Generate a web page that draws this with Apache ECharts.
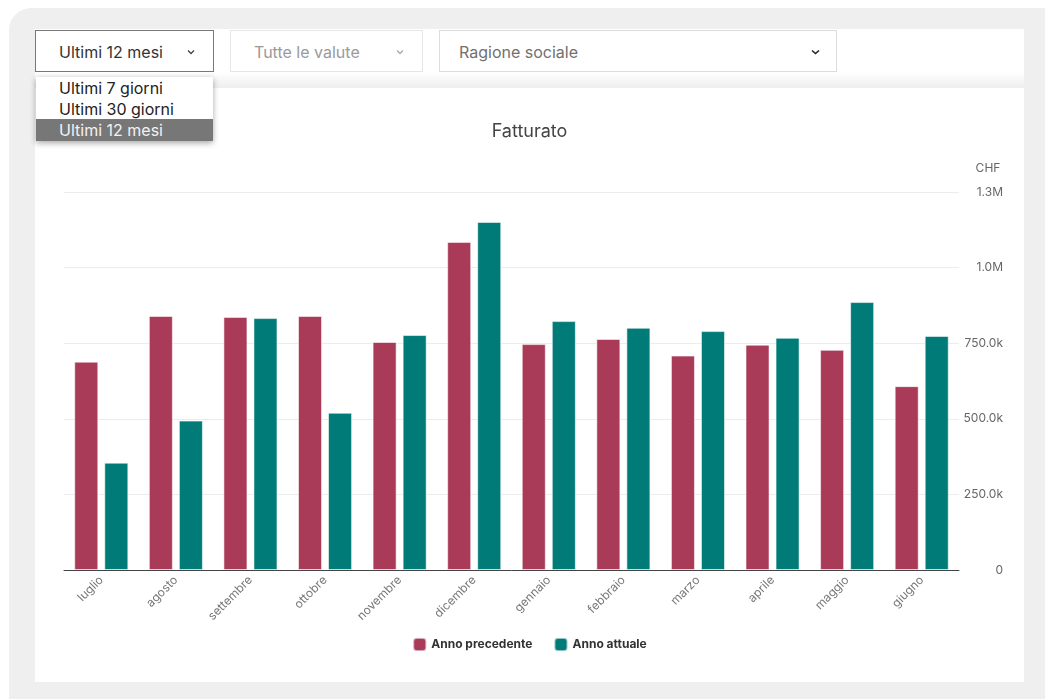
<!DOCTYPE html>
<html>
<head>
<meta charset="utf-8">
<script src="https://cdn.jsdelivr.net/npm/echarts@6/dist/echarts.min.js"></script>
<style>
  html, body { margin: 0; padding: 0; width: 1045px; height: 699px; overflow: hidden; background: #ffffff; font-family: Inter, "Noto Sans", sans-serif; }
  #outer { position: absolute; left: 9px; top: 8px; width: 1060px; height: 720px; background: #efefef; border-radius: 22px; }
  #panel { position: absolute; left: 35px; top: 29px; width: 989px; height: 653px; background: #ffffff; }
  #hdrshadow { position: absolute; left: 35px; top: 72px; width: 989px; height: 16px; background: linear-gradient(to bottom, rgba(238,238,238,0) 0%, rgba(238,238,238,1) 100%); }
  .dd { position: absolute; top: 30px; height: 42px; box-sizing: border-box; background: #fff; font-size: 16px; line-height: 42px; }
  .dd span { position: absolute; top: 0; }
  .dd svg { position: absolute; top: 18px; }
  #dd1 { left: 35px; width: 179px; border: 1px solid #777; color: #333; }
  #dd2 { left: 230px; width: 193px; border: 1px solid #e6e6e6; color: #9a9a9a; }
  #dd3 { left: 439px; width: 398px; border: 1px solid #dcdcdc; color: #707070; }
  #list { position: absolute; left: 36px; top: 77px; width: 177px; height: 64px; background: #fff; box-shadow: 0 2px 6px rgba(0,0,0,0.35); font-size: 16px; color: #222; }
  #list div { height: 21px; line-height: 22px; padding-left: 23px; }
  #list div.sel { background: #777777; color: #f2f2f2; height: 22px; }
  #chart { position: absolute; left: 35px; top: 88px; width: 989px; height: 594px; }
</style>
</head>
<body>
<div id="outer"></div>
<div id="panel"></div>
<div id="hdrshadow"></div>
<div class="dd" id="dd1"><span style="left:23px">Ultimi 12 mesi</span><svg style="left:151px" width="8" height="6" viewBox="0 0 8 6"><path d="M1 1.5 L4 4.5 L7 1.5" fill="none" stroke="#444" stroke-width="1.3"/></svg></div>
<div class="dd" id="dd2"><span style="left:23px">Tutte le valute</span><svg style="left:165px" width="8" height="6" viewBox="0 0 8 6"><path d="M1 1.5 L4 4.5 L7 1.5" fill="none" stroke="#aaa" stroke-width="1.3"/></svg></div>
<div class="dd" id="dd3"><span style="left:19px">Ragione sociale</span><svg style="left:371px" width="9" height="6" viewBox="0 0 9 6"><path d="M1 1.5 L4.5 4.5 L8 1.5" fill="none" stroke="#222" stroke-width="1.6"/></svg></div>
<div id="list">
  <div>Ultimi 7 giorni</div>
  <div>Ultimi 30 giorni</div>
  <div class="sel">Ultimi 12 mesi</div>
</div>
<div id="chart"></div>
<script>
const categories = ['luglio','agosto','settembre','ottobre','novembre','dicembre','gennaio','febbraio','marzo','aprile','maggio','giugno'];
const annoPrecedente = [689000, 840000, 837000, 840000, 754000, 1085000, 747000, 764000, 709000, 745000, 728000, 608000];
const annoAttuale = [355000, 494000, 833000, 520000, 777000, 1151000, 823000, 801000, 790000, 768000, 886000, 774000];
const seriesNames = ['Anno precedente', 'Anno attuale'];
const titleText = 'Fatturato';
const currency = 'CHF';

function fmt(v) {
  if (v === 0) return '0';
  if (v >= 1e6) return (v / 1e6).toFixed(1) + 'M';
  return (v / 1e3).toFixed(1) + 'k';
}

const chart = echarts.init(document.getElementById('chart'), null, { renderer: 'canvas' });
chart.setOption({
  animation: false,
  textStyle: { fontFamily: 'Inter' },
  title: {
    text: titleText, left: 'center', top: 30,
    textStyle: { fontFamily: 'Inter', fontSize: 18, fontWeight: 'normal', color: '#444' }
  },
  legend: {
    bottom: 25, left: 'center', itemWidth: 13, itemHeight: 13, itemGap: 21, icon: 'roundRect',
    textStyle: { fontFamily: 'Inter', fontSize: 12, fontWeight: 'bold', color: '#333' },
    data: seriesNames
  },
  grid: { left: 29, right: 65, top: 104, bottom: 112, containLabel: false },
  xAxis: {
    type: 'category', data: categories,
    axisLine: { lineStyle: { color: '#444', width: 1 } },
    axisTick: { alignWithLabel: true, length: 5, lineStyle: { color: '#555' } },
    axisLabel: { rotate: 45, fontSize: 12, color: '#777', margin: 8, fontFamily: 'Inter', interval: 0 }
  },
  yAxis: {
    type: 'value', position: 'right', min: 0, max: 1250000, interval: 250000,
    name: currency, nameLocation: 'end', nameGap: 18,
    nameTextStyle: { fontSize: 12, color: '#666', padding: [0, 0, 0, 58], fontFamily: 'Inter' },
    axisLine: { show: false }, axisTick: { show: false },
    splitLine: { lineStyle: { color: '#ececec' } },
    axisLabel: { formatter: fmt, align: 'right', margin: 44, fontSize: 12, color: '#666', fontFamily: 'Inter', padding: [5, 0, 0, 0] }
  },
  series: [
    { name: seriesNames[0], type: 'bar', data: annoPrecedente, barGap: '25%', barCategoryGap: '27.5%',
      itemStyle: { color: '#a93b58', borderColor: 'rgba(255,255,255,0.55)', borderWidth: 1 } },
    { name: seriesNames[1], type: 'bar', data: annoAttuale,
      itemStyle: { color: '#007b78', borderColor: 'rgba(255,255,255,0.55)', borderWidth: 1 } }
  ]
});
</script>
</body>
</html>
